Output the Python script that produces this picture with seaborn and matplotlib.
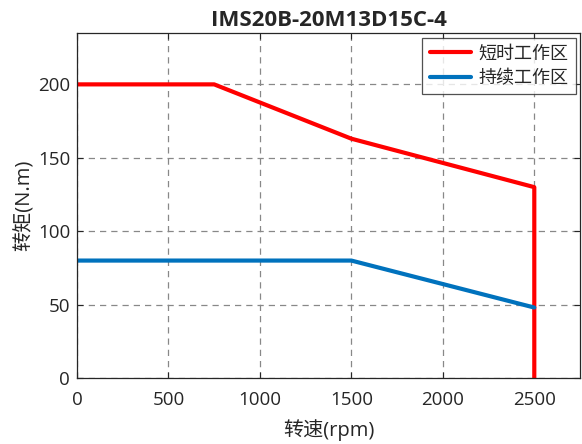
import pandas as pd
import matplotlib
matplotlib.use('Agg')
import matplotlib.pyplot as plt
import seaborn as sns

# 转速-转矩曲线数据
speed_peak = [0, 750, 1500, 2500, 2500]
torque_peak = [200, 200, 163, 130, 0]
speed_cont = [0, 1500, 2500]
torque_cont = [80, 80, 48]
labels = ['短时工作区', '持续工作区']
colors = ['#FF0000', '#0072BD']

df = pd.concat([
    pd.DataFrame({'speed': speed_peak, 'torque': torque_peak, 'zone': labels[0]}),
    pd.DataFrame({'speed': speed_cont, 'torque': torque_cont, 'zone': labels[1]}),
], ignore_index=True)

sns.set_style('white')
plt.rcParams['font.family'] = ['Open Sans', 'Noto Sans CJK SC', 'DejaVu Sans']

fig = plt.figure(figsize=(5.82, 4.44), dpi=100)
ax = fig.add_axes([0.1323, 0.1486, 0.8643, 0.7771])

sns.lineplot(data=df, x='speed', y='torque', hue='zone', palette=colors,
             sort=False, estimator=None, linewidth=3, ax=ax)

ax.set_xlim(0, 2750)
ax.set_ylim(0, 235)
ax.set_xticks([0, 500, 1000, 1500, 2000, 2500])
ax.set_yticks([0, 50, 100, 150, 200])
ax.grid(True, color='#888888', linestyle=(0, (5, 4)), linewidth=0.9)
for s in ax.spines.values():
    s.set_color('#262626')
    s.set_linewidth(0.9)
ax.tick_params(axis='both', labelsize=13.5, colors='#262626', direction='in',
               length=4, bottom=True, left=True, top=True, right=True)
ax.tick_params(axis='x', pad=9)
ax.tick_params(axis='y', pad=5)
ax.set_xlabel('转速(rpm)', fontsize=14.5, color='#262626', labelpad=8)
ax.set_ylabel('转矩(N.m)', fontsize=14.5, color='#262626', labelpad=2)
ax.set_title('IMS20B-20M13D15C-4', fontsize=16, fontweight='bold', pad=5)

leg = ax.legend(loc='upper right', fontsize=13, frameon=True, fancybox=False,
                edgecolor='#262626', borderaxespad=0.25, handlelength=2.3,
                borderpad=0.4, labelspacing=0.35, handletextpad=0.4)
leg.get_frame().set_linewidth(0.9)

fig.savefig('out.png', dpi=100)
